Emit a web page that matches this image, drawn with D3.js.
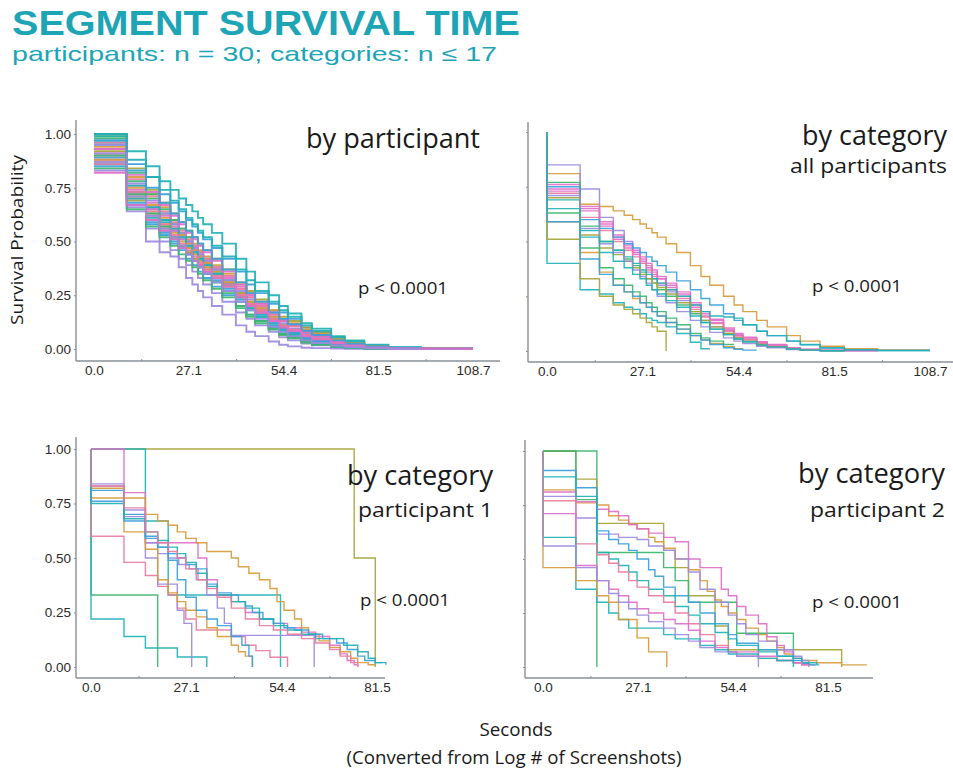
<!DOCTYPE html>
<html><head><meta charset="utf-8">
<script src="https://cdn.jsdelivr.net/npm/d3@7"></script>
<style>body{margin:0;background:#fff}svg{display:block}</style>
</head><body>
<script>
// ---------- DATA ----------
// shared step-time grid (seconds) for the two top panels
const T = [0, 9.4, 14.9, 18.8, 21.9, 24.3, 26.4, 28.2, 29.8, 31.3, 33.8, 36.8, 40.7, 43.7, 46.2, 50.1, 53.1, 55.6, 59.5, 62.5, 68.0, 71.9, 77.5, 84.4, 93.8, 108.7];
const xTickValues = [0, 27.1, 54.4, 81.5, 108.7];
const xTickValuesShort = [0, 27.1, 54.4, 81.5];
const yTickValues = [0, 0.25, 0.5, 0.75, 1];

const C = {teal:"#1fb1b6", blue:"#3a9fda", olive:"#a6a43a", gold:"#d69a3c", green:"#3db56f", pink:"#de6fc8", purple:"#9c8ae0", rose:"#e87b9c"};

// panel 1: survival by participant (values at grid times T)
const participantColors = ["teal","blue","olive","gold","green","pink","purple","rose","teal","blue","green","pink","purple","gold","teal","olive","rose","pink","blue","green","teal","purple","gold","pink","teal","rose","blue","green","pink","purple"];
const participantSurv = [
 [.97,.92,.85,.78,.74,.70,.67,.64,.61,.58,.54,.49,.42,.36,.31,.25,.20,.165,.12,.095,.06,.04,.02,.008,.003],
 [.95,.86,.80,.72,.68,.64,.60,.57,.54,.51,.47,.42,.36,.30,.26,.21,.17,.14,.10,.075,.045,.03,.015,.006,.002],
 [1.0,.84,.74,.68,.63,.59,.55,.52,.49,.46,.42,.37,.31,.27,.23,.18,.15,.13,.10,.08,.05,.03,.012,.004],
 [.99,.80,.72,.66,.60,.56,.52,.49,.46,.43,.39,.35,.30,.26,.22,.18,.14,.12,.09,.07,.045,.025,.01,.004],
 [1.0,.78,.70,.63,.58,.54,.50,.46,.43,.40,.36,.31,.26,.22,.18,.14,.11,.09,.065,.05,.03,.015,.006,.002],
 [.93,.76,.68,.62,.57,.53,.50,.47,.44,.41,.38,.34,.29,.25,.21,.17,.14,.11,.08,.06,.035,.02,.008,.003,.001],
 [.83,.64,.50,.45,.43,.38,.33,.30,.27,.24,.20,.16,.11,.08,.06,.035,.02,.012,.006,.004,.002,.001],
 [.90,.70,.62,.57,.52,.48,.45,.42,.39,.36,.33,.29,.25,.21,.18,.14,.11,.09,.065,.05,.03,.018,.008,.003],
 [.96,.73,.65,.59,.55,.51,.48,.45,.42,.39,.35,.30,.24,.20,.16,.12,.09,.07,.045,.03,.015,.008,.003,.001],
 [.85,.67,.58,.53,.49,.46,.42,.39,.36,.33,.29,.25,.20,.16,.13,.10,.07,.055,.035,.025,.012,.006,.002],
 [.98,.82,.72,.65,.60,.56,.52,.48,.45,.42,.37,.32,.26,.21,.17,.13,.10,.08,.055,.04,.02,.01,.004,.001],
 [.88,.72,.65,.60,.56,.52,.49,.46,.43,.40,.37,.33,.28,.24,.20,.16,.13,.11,.08,.06,.04,.025,.012,.005,.002],
 [.87,.66,.56,.50,.46,.42,.39,.36,.33,.30,.26,.22,.17,.14,.11,.08,.055,.04,.025,.017,.008,.004,.001],
 [.94,.75,.67,.61,.56,.53,.49,.46,.43,.40,.36,.31,.25,.21,.17,.14,.11,.09,.065,.05,.03,.016,.006,.002],
 [.86,.70,.61,.55,.51,.47,.44,.41,.38,.35,.31,.27,.22,.18,.15,.11,.085,.065,.045,.032,.017,.009,.003,.001,.0005],
 [.92,.69,.60,.56,.52,.48,.45,.42,.39,.37,.33,.29,.24,.20,.17,.13,.10,.08,.06,.045,.028,.016,.007,.002],
 [.96,.79,.71,.64,.59,.55,.51,.48,.45,.42,.38,.34,.28,.24,.20,.16,.13,.105,.075,.055,.033,.02,.009,.003],
 [.91,.74,.66,.60,.55,.51,.47,.44,.41,.38,.34,.30,.25,.21,.17,.13,.10,.08,.055,.04,.022,.012,.005,.002,.001],
 [.89,.68,.59,.54,.50,.47,.44,.41,.38,.35,.32,.28,.23,.19,.16,.12,.095,.075,.05,.036,.02,.01,.004,.001],
 [.84,.65,.57,.52,.48,.44,.41,.38,.35,.32,.28,.24,.19,.15,.12,.09,.065,.05,.03,.02,.01,.005,.002],
 [1.0,.88,.80,.74,.69,.65,.61,.58,.55,.52,.48,.43,.37,.32,.27,.22,.18,.15,.11,.085,.055,.035,.017,.007,.002],
 [.95,.77,.69,.63,.58,.54,.50,.47,.44,.41,.37,.32,.27,.23,.19,.15,.12,.095,.07,.05,.03,.017,.007,.002,.001],
 [.88,.71,.63,.58,.54,.50,.47,.44,.41,.38,.35,.31,.26,.22,.19,.15,.13,.11,.085,.065,.04,.025,.012,.005,.002],
 [.93,.81,.73,.67,.62,.58,.54,.51,.48,.45,.41,.36,.30,.25,.21,.17,.13,.11,.08,.06,.036,.02,.009,.003,.001],
 [.99,.76,.66,.60,.56,.52,.48,.45,.42,.39,.35,.30,.24,.19,.15,.11,.08,.06,.04,.027,.013,.006,.002],
 [.86,.73,.64,.58,.53,.49,.46,.43,.40,.37,.34,.30,.25,.21,.18,.14,.11,.09,.065,.048,.028,.016,.007,.002],
 [.97,.83,.75,.68,.63,.59,.55,.52,.49,.46,.42,.37,.31,.26,.22,.17,.14,.115,.085,.065,.04,.024,.011,.004,.001],
 [.90,.72,.63,.57,.52,.48,.44,.41,.38,.35,.31,.26,.20,.16,.13,.095,.07,.055,.035,.025,.012,.006,.002],
 [.82,.67,.60,.55,.51,.47,.44,.41,.39,.36,.33,.29,.24,.20,.17,.13,.10,.085,.06,.045,.026,.015,.006,.002,.001],
 [.91,.71,.62,.56,.52,.48,.44,.41,.38,.35,.31,.27,.22,.18,.14,.105,.08,.06,.04,.028,.015,.008,.003,.001]
];

// panel 2: survival by category, all participants (values at grid times T, starting from 1.0)
const categoryColors = ["gold","purple","pink","pink","rose","pink","green","blue","teal","olive","purple","teal","teal","olive","gold","green","blue"];
const categorySurv = [
 [.81,.67,.66,.64,.62,.60,.58,.56,.54,.52,.49,.45,.39,.34,.30,.25,.21,.18,.14,.11,.07,.045,.022,.01,.005],
 [.85,.74,.61,.55,.50,.45,.40,.36,.33,.30,.27,.23,.18,.14,.11,.08,.06,.045,.03,.02,.01,.005,.002],
 [.74,.65,.58,.52,.48,.45,.42,.39,.36,.33,.30,.26,.21,.17,.14,.10,.075,.06,.04,.028,.014,.007,.003,.001],
 [.73,.64,.57,.51,.47,.44,.41,.38,.35,.33,.29,.25,.20,.16,.13,.095,.07,.055,.036,.025,.012,.006,.002],
 [.72,.61,.55,.50,.46,.43,.40,.37,.34,.31,.28,.24,.19,.155,.125,.09,.068,.052,.034,.023,.011,.005,.002],
 [.76,.66,.59,.53,.49,.46,.43,.40,.37,.34,.31,.27,.22,.18,.145,.105,.08,.063,.042,.03,.015,.008,.003,.001],
 [.77,.57,.50,.46,.42,.39,.36,.33,.31,.28,.25,.21,.17,.13,.10,.075,.055,.042,.027,.018,.009,.004,.001],
 [.75,.60,.56,.52,.49,.47,.45,.43,.41,.39,.36,.32,.28,.24,.21,.17,.14,.12,.09,.07,.045,.028,.013,.005,.002],
 [.69,.55,.50,.46,.43,.40,.37,.35,.33,.31,.28,.25,.21,.18,.16,.155,.15,.12,.09,.07,.045,.03,.015,.006,.002],
 [.70,.53,.47,.44,.41,.38,.35,.33,.31,.29,.26,.22,.18,.14,.11,.08,.06,.045,.03,.02,.01,.004],
 [.71,.56,.49,.45,.41,.37,.34,.31,.28,.25,.22,.18,.14,.11,.085,.06,.045,.034,.022,.015,.007,.003],
 [.65,.52,.45,.41,.38,.35,.33,.30,.28,.26,.23,.20,.16,.13,.10,.075,.055,.042,.028,.019,.009,.004,.001],
 [.40,.28,.26,.22,.20,.19,.17,.15,.14,.13,.11,.08,.04,.01],
 [.51,.33,.25,.21,.19,.17,.15,.13,.11,.09,0],
 [.59,.45,.36,.30,.27,.24,.22,.20,.18,.16,.13,.10,.07,.05,.035,.02,.01],
 [.63,.47,.38,.33,.30,.27,.25,.22,.20,.18,.15,.12,.08,.06,.045,.03],
 [.59,.42,.35,.30,.27,.25,.22,.20,.18,.16,.13,.10,.07,.05,.03,.015,.008,.004]
];

// panel 3: by category, participant 1  ([seconds, survival] change points)
const p1Colors = ["olive","teal","green","teal","rose","pink","purple","purple","gold","gold","blue","blue","teal","rose"];
const p1Curves = [
 [[0,1],[75,.5],[81,0]],
 [[0,1],[15.5,.67],[22,.33],[54,0]],
 [[0,1],[0,.33],[19,0]],
 [[0,1],[0,.22],[9.4,.14],[15.5,.087],[24.6,.046],[33,0]],
 [[0,1],[0,.60],[9.4,.48],[15.5,.42],[19,.37],[22,.33],[24.6,.27],[27,.22],[30,.17],[40,.14],[44,.10],[47,.075],[51,.045],[56,0]],
 [[0,1],[9.4,.80],[15.5,.57],[30.5,.50],[33,.40],[36,.33],[40,.30],[44,.25],[48,.22],[52,.20],[56,.18],[60,.16],[64,.14],[68,.10],[71,.06],[73,.03],[75,.01],[76,0]],
 [[0,1],[0,.84],[9.4,.69],[15.5,.50],[19,.38],[24.6,.26],[26.5,.20],[28.7,0]],
 [[0,1],[0,.83],[9.4,.72],[15.5,.57],[19,.52],[22,.50],[25,.47],[28,.45],[30.5,.40],[33,.33],[36,.27],[38,.20],[40,.145],[63.6,0]],
 [[0,1],[0,.775],[15.5,.70],[19,.67],[22,.65],[24.6,.62],[27,.59],[30,.57],[33,.53],[40,.50],[42,.46],[45,.43],[48,.40],[51,.36],[53,.30],[55,.26],[58,.22],[60,.18],[62,.15],[65,.12],[68,.09],[71,.07],[74,.04],[76,.02],[79,.01],[81,.01]],
 [[0,1],[0,.82],[9.4,.62],[15.5,.54],[19,.40],[22,.34],[24.6,.30],[27,.26],[30,.23],[33,.18],[36,.14],[40,.10],[42,.07],[44,.05],[46,.03],[46,0]],
 [[0,1],[0,.81],[9.4,.70],[15.5,.60],[19,.55],[22,.52],[24.6,.50],[27,.47],[30,.45],[33,.38],[36,.34],[40,.33],[42,.30],[44,.28],[46,.25],[49,.22],[52,.20],[55,.18],[58,.17],[62,.15],[66,.13],[70,.11],[73,.08],[76,.05],[78,.03],[81,.02],[84,.01]],
 [[0,1],[0,.76],[9.4,.67],[15.5,.59],[19,.55],[22,.49],[24.6,.40],[27,.32],[30,.26],[33,.22],[36,.19],[40,.14],[43,.10],[45,.05],[46,.01],[46,0]],
 [[0,1],[0,.75],[9.4,.68],[15.5,.62],[19,.58],[22,.55],[24.6,.52],[27,.48],[30,.43],[33,.37],[36,.33],[40,.30],[44,.27],[48,.22],[52,.19],[56,.17],[60,.15],[64,.13],[72,.10],[76,.07],[79,.04],[81,.02],[83,.02]],
 [[0,1],[0,.83],[9.4,.73],[15.5,.62],[19,.57],[22,.53],[24.6,.50],[27,.45],[30,.40],[33,.36],[36,.32],[40,.27],[44,.22],[48,.19],[52,.17],[56,.15],[60,.13],[64,.11],[68,.08],[71,.05],[74,.02],[76,.005],[76,0]]
];

// panel 4: by category, participant 2
const p2Colors = ["green","olive","green","gold","pink","purple","blue","teal","rose","pink","teal","gold","purple"];
const p2Curves = [
 [[0,1],[15.4,0]],
 [[0,1],[9.4,.87],[15.4,.665],[34.5,.54],[37.8,.46],[41.6,.33],[49.2,.19],[53,.08],[85.4,.08],[85.4,0]],
 [[0,1],[9.4,.775],[15.4,.53],[30.2,.53],[34.5,.46],[37.8,.40],[41.6,.30],[53,.30],[55.4,.156],[71.6,.156],[71.6,.02],[74,.02]],
 [[0,1],[0,.82],[9.4,.76],[15.4,.75],[18.8,.70],[21.6,.68],[24.5,.66],[26.9,.64],[30.2,.60],[32,.58],[34.5,.55],[37.8,.50],[41.6,.45],[44.9,.40],[47,.35],[49.2,.31],[51,.28],[53,.25],[55.4,.22],[58,.18],[61.6,.15],[64,.12],[66.9,.09],[69,.06],[71.6,.04],[74,.03],[78.3,.02],[85.4,.01],[92.6,.01]],
 [[0,1],[0,.81],[9.4,.765],[15.4,.73],[18.8,.72],[21.6,.70],[24.5,.66],[26.9,.64],[30.2,.62],[34.5,.60],[37.8,.58],[41.6,.50],[44.9,.46],[51,.36],[53,.33],[55.4,.28],[58,.24],[61.6,.20],[64,.14],[66.9,.10],[69,.07],[71.6,.04],[74,.02],[76,.01],[76,0]],
 [[0,1],[0,.79],[9.4,.69],[15.4,.615],[21.6,.60],[26.9,.59],[30.2,.56],[34.5,.54],[37.8,.50],[41.6,.44],[44.9,.36],[49.2,.30],[53,.24],[55.4,.20],[58,.15],[61.6,.12],[66.9,.08],[71.6,.05],[74,.03],[76,.01],[78,.01]],
 [[0,1],[0,.91],[9.4,.83],[15.4,.63],[18.8,.59],[21.6,.57],[24.5,.54],[26.9,.50],[30.2,.45],[32,.42],[34.5,.37],[37.8,.33],[41.6,.30],[44.9,.25],[49.2,.20],[53,.15],[55.4,.11],[61.6,.08],[66.9,.05],[71.6,.03],[74,.015],[76,.01],[78,.01]],
 [[0,1],[0,.88],[9.4,.79],[15.4,.53],[18.8,.50],[21.6,.47],[24.5,.44],[26.9,.40],[30.2,.36],[34.5,.33],[37.8,.28],[41.6,.24],[44.9,.20],[49.2,.16],[53,.13],[55.4,.10],[61.6,.07],[66.9,.05],[71.6,.04],[74,.02],[78.3,.01],[79,.01]],
 [[0,1],[0,.77],[9.4,.57],[15.4,.52],[18.8,.48],[21.6,.44],[24.5,.40],[26.9,.37],[30.2,.33],[34.5,.30],[37.8,.25],[41.6,.20],[44.9,.15],[49.2,.10],[53,.07],[55.4,.05],[61.6,.04],[66.9,.03],[71.6,.02],[74,.01],[76,.01]],
 [[0,1],[0,.71],[9.4,.47],[15.4,.40],[18.8,.36],[21.6,.33],[24.5,.30],[26.9,.27],[30.2,.25],[34.5,.22],[37.8,.20],[41.6,.17],[44.9,.12],[49.2,.09],[53,.07],[61.6,.05],[66.9,.03],[71.6,.02],[74,.01],[76,.01]],
 [[0,1],[0,.60],[9.4,.36],[15.4,.30],[18.8,.25],[21.6,.22],[24.5,.18],[34.5,.15],[37.8,.13],[44.9,.10],[49.2,.08],[53,.06],[61.6,.04],[66.9,.03],[71.6,.01],[71.6,0]],
 [[0,1],[0,.46],[9.4,.40],[15.4,.33],[18.8,.30],[21.6,.22],[26.9,.135],[30.2,.07],[35.4,0]],
 [[0,1],[0,.56],[9.4,.46],[15.4,.40],[18.8,.34],[21.6,.30],[24.5,.27],[26.9,.24],[30.2,.21],[34.5,.18],[37.8,.15],[41.6,.12],[44.9,.09],[49.2,.07],[55.4,.05],[61.6,.04],[61.6,0]]
];

// ---------- BUILD ----------
function gridPoints(vals, startAtOne) {
  const pts = [];
  if (startAtOne) pts.push([0, 1]);
  vals.forEach((v, i) => pts.push([T[i], v]));
  const last = vals[vals.length - 1];
  if (last !== 0) pts.push([T[vals.length], last]);
  return pts;
}

const svg = d3.select("body").append("svg").attr("width", 953).attr("height", 771);
const teal = "#1da5b6";
const sans = "'Open Sans', 'Noto Sans', sans-serif";
const headFont = "'Liberation Sans', Arial, sans-serif";
const tickFont = "'Liberation Sans', Arial, sans-serif";

svg.append("text").attr("x", 12).attr("y", 35).attr("font-family", headFont).attr("font-weight", 700)
  .attr("font-size", 35).attr("fill", teal).attr("textLength", 508).attr("lengthAdjust", "spacingAndGlyphs")
  .text("SEGMENT SURVIVAL TIME");
svg.append("text").attr("x", 12).attr("y", 61).attr("font-family", headFont)
  .attr("font-size", 21).attr("fill", teal).attr("textLength", 485).attr("lengthAdjust", "spacingAndGlyphs")
  .text("participants: n = 30; categories: n ≤ 17");

const panels = [
  {x0:94, x1:473, dmax:108.7, y0:349, y1:134, axX:76, axTop:120, axY:361, axRight:500, yLab:true, ticks:xTickValues, width:1.9,
   curves: participantSurv.map(v => gridPoints(v, false)), colors: participantColors},
  {x0:547, x1:930, dmax:108.7, y0:351, y1:132, axX:528, axTop:122, axY:362, axRight:955, yLab:false, ticks:xTickValues, width:1.4,
   curves: categorySurv.map(v => gridPoints(v, true)), colors: categoryColors},
  {x0:91, x1:377, dmax:81.5, y0:667, y1:449, axX:76, axTop:437, axY:678, axRight:385, yLab:true, ticks:xTickValuesShort, width:1.4,
   curves: p1Curves, colors: p1Colors},
  {x0:543, x1:828, dmax:81.5, y0:667, y1:451, axX:525, axTop:440, axY:678, axRight:873, yLab:false, ticks:xTickValuesShort, width:1.4,
   curves: p2Curves, colors: p2Colors}
];

panels.forEach(p => {
  const x = d3.scaleLinear().domain([0, p.dmax]).range([p.x0, p.x1]);
  const y = d3.scaleLinear().domain([0, 1]).range([p.y0, p.y1]);
  const g = svg.append("g");
  g.append("line").attr("x1", p.axX).attr("x2", p.axX).attr("y1", p.axTop).attr("y2", p.axY)
    .attr("stroke", "#8a8f99").attr("stroke-width", 1.4);
  g.append("line").attr("x1", p.axX).attr("x2", p.axRight).attr("y1", p.axY).attr("y2", p.axY)
    .attr("stroke", "#8a8f99").attr("stroke-width", 1.4);
  const ya = g.append("g").attr("transform", `translate(${p.axX},0)`)
    .call(d3.axisLeft(y).tickValues(yTickValues).tickSize(2).tickPadding(3)
      .tickFormat(p.yLab ? d3.format(".2f") : () => ""));
  ya.select(".domain").remove();
  ya.selectAll("line").attr("stroke", "#8a8f99");
  ya.selectAll("text").attr("font-family", tickFont).attr("font-size", 13.5).attr("fill", "#2a2a2a");
  const xa = g.append("g").attr("transform", `translate(0,${p.axY})`)
    .call(d3.axisBottom(x).tickValues(p.ticks).tickSize(0).tickPadding(4).tickFormat(d3.format(".1f")));
  xa.select(".domain").remove();
  xa.selectAll("text").attr("font-family", tickFont).attr("font-size", 13.5).attr("fill", "#2a2a2a");
  const mids = p.ticks.slice(1).map((t, i) => (t + p.ticks[i]) / 2);
  const xm = g.append("g").attr("transform", `translate(0,${p.axY})`)
    .call(d3.axisTop(x).tickValues(mids).tickSize(2).tickFormat(() => ""));
  xm.select(".domain").remove();
  xm.selectAll("line").attr("stroke", "#8a8f99");
  const line = d3.line().x(d => x(d[0])).y(d => y(d[1])).curve(d3.curveStepAfter);
  g.append("g").selectAll("path").data(p.curves).join("path")
    .attr("d", line).attr("fill", "none")
    .attr("stroke", (d, i) => C[p.colors[i]])
    .attr("stroke-width", p.width).attr("stroke-linejoin", "miter").attr("opacity", 0.92);
});

function label(txt, x, y, size, len) {
  svg.append("text").attr("x", x).attr("y", y).attr("font-family", sans).attr("font-size", size)
    .attr("fill", "#1a1a1a").attr("textLength", len).attr("lengthAdjust", "spacingAndGlyphs").text(txt);
}
label("by participant", 306, 148, 27, 174);
label("by category", 802, 145, 27, 145);
label("all participants", 790, 173, 20, 157);
label("by category", 347, 485, 27, 146);
label("participant 1", 358, 517, 20, 135);
label("by category", 798, 483, 27, 147);
label("participant 2", 810, 517, 20, 135);
label("p < 0.0001", 358, 294, 17, 90);
label("p < 0.0001", 812, 292, 17, 90);
label("p < 0.0001", 360, 606, 17, 90);
label("p < 0.0001", 812, 608, 17, 90);

svg.append("text").attr("transform", "translate(23,240) rotate(-90)").attr("text-anchor", "middle")
  .attr("font-family", sans).attr("font-size", 17).attr("fill", "#1a1a1a")
  .attr("textLength", 170).attr("lengthAdjust", "spacingAndGlyphs").text("Survival Probability");
svg.append("text").attr("x", 516).attr("y", 736).attr("text-anchor", "middle")
  .attr("font-family", sans).attr("font-size", 18).attr("fill", "#1a1a1a")
  .attr("textLength", 73).attr("lengthAdjust", "spacingAndGlyphs").text("Seconds");
svg.append("text").attr("x", 514).attr("y", 764).attr("text-anchor", "middle")
  .attr("font-family", sans).attr("font-size", 18).attr("fill", "#1a1a1a")
  .attr("textLength", 335).attr("lengthAdjust", "spacingAndGlyphs").text("(Converted from Log # of Screenshots)");
</script>
</body></html>
